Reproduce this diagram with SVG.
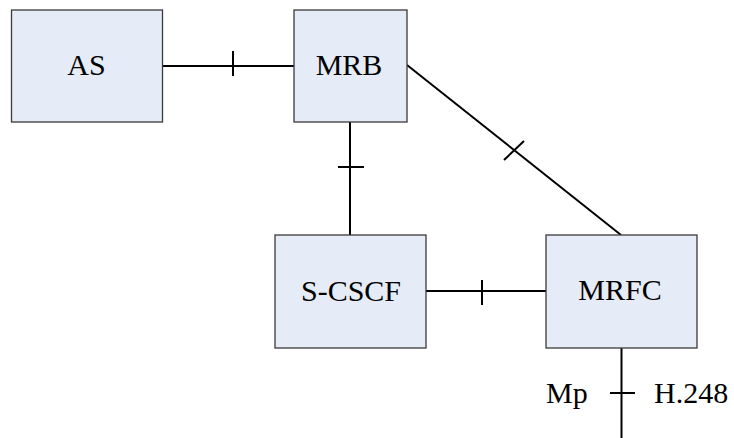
<svg xmlns="http://www.w3.org/2000/svg" width="734" height="438" viewBox="0 0 734 438">
  <style>
    .box { fill: #e6ecf7; stroke: #3a3a3a; stroke-width: 1.3; }
    .lbl { font-family: "Liberation Serif", "Times New Roman", serif; font-size: 30px; fill: #000; text-anchor: middle; }
    .ref { font-family: "Liberation Serif", "Times New Roman", serif; font-size: 30px; fill: #000; }
    .wire { stroke: #000; stroke-width: 2; fill: none; }
  </style>
  <rect width="734" height="438" fill="#ffffff"/>

  <!-- connectors and reference-point ticks -->
  <g id="connectors">
    <line class="wire" x1="162" y1="66" x2="294" y2="66"/>
    <line class="wire" x1="233" y1="51" x2="233" y2="76"/>

    <line class="wire" x1="350" y1="122" x2="350" y2="235"/>
    <line class="wire" x1="338" y1="167" x2="364" y2="167"/>

    <line class="wire" x1="407" y1="65" x2="621" y2="235"/>
    <line class="wire" x1="504" y1="160" x2="524" y2="141"/>

    <line class="wire" x1="426" y1="291" x2="546" y2="291"/>
    <line class="wire" x1="482" y1="280" x2="482" y2="305"/>

    <line class="wire" x1="621.5" y1="348" x2="621.5" y2="438"/>
    <line class="wire" x1="610" y1="393" x2="635" y2="393"/>
    <text class="ref" x="546" y="403">Mp</text>
    <text class="ref" x="654" y="403">H.248</text>
  </g>

  <g id="as">
    <rect class="box" x="11.5" y="10" width="151" height="112"/>
    <text class="lbl" x="86.5" y="75">AS</text>
  </g>

  <g id="mrb">
    <rect class="box" x="294" y="10" width="113" height="112"/>
    <text class="lbl" x="349" y="75">MRB</text>
  </g>

  <g id="s-cscf">
    <rect class="box" x="275" y="235" width="151" height="113"/>
    <text class="lbl" x="351" y="301">S-CSCF</text>
  </g>

  <g id="mrfc">
    <rect class="box" x="546" y="235" width="151" height="113"/>
    <text class="lbl" x="620" y="300">MRFC</text>
  </g>
</svg>
